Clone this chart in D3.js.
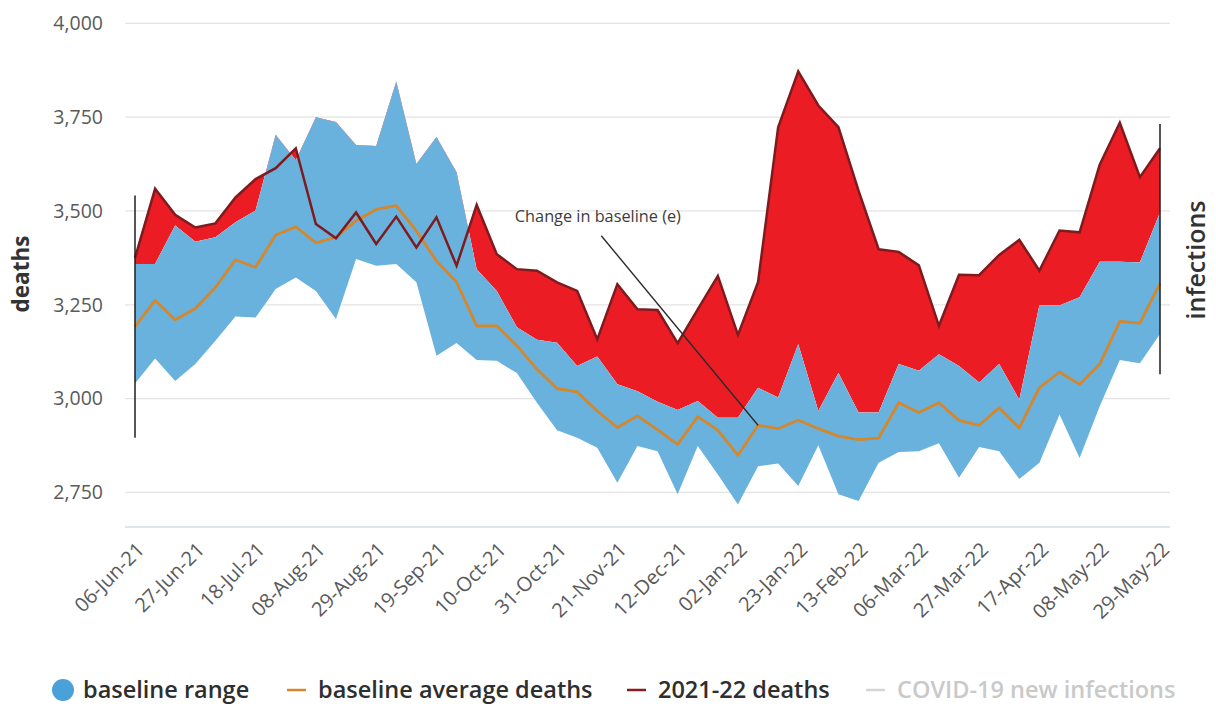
<!DOCTYPE html>
<html>
<head>
<meta charset="utf-8">
<script src="https://cdn.jsdelivr.net/npm/d3@7"></script>
<style>
  body { margin: 0; background: #fff; }
  svg { display: block; font-family: "Open Sans", "Noto Sans", sans-serif; }
</style>
</head>
<body>
<svg id="chart" width="1216" height="706"></svg>
<script>
// ── Data (weekly, 06-Jun-21 .. 29-May-22) ───────────────────────────────
const tickLabels = ['06-Jun-21', '27-Jun-21', '18-Jul-21', '08-Aug-21', '29-Aug-21', '19-Sep-21',
  '10-Oct-21', '31-Oct-21', '21-Nov-21', '12-Dec-21', '02-Jan-22', '23-Jan-22', '13-Feb-22',
  '06-Mar-22', '27-Mar-22', '17-Apr-22', '08-May-22', '29-May-22'];

const baselineUpper = [3359, 3359, 3461, 3418, 3430, 3470, 3501, 3703, 3635, 3750, 3737, 3676, 3673,
  3845, 3625, 3697, 3603, 3345, 3287, 3190, 3157, 3149, 3087, 3112, 3038, 3020, 2992, 2970, 2994,
  2949, 2949, 3029, 3003, 3145, 2967, 3068, 2963, 2963, 3092, 3074, 3118, 3087, 3043, 3092, 2997,
  3249, 3248, 3270, 3365, 3365, 3363, 3496];

const baselineLower = [3040, 3107, 3047, 3092, 3154, 3219, 3216, 3292, 3323, 3287, 3212, 3372, 3354,
  3359, 3310, 3114, 3148, 3103, 3101, 3068, 2989, 2916, 2896, 2869, 2776, 2874, 2860, 2745, 2874,
  2798, 2718, 2820, 2827, 2767, 2876, 2745, 2727, 2829, 2858, 2860, 2881, 2789, 2871, 2860, 2786,
  2829, 2958, 2842, 2980, 3103, 3094, 3172];

const baselineAverage = [3192, 3262, 3210, 3240, 3296, 3370, 3350, 3436, 3458, 3415, 3430, 3474, 3504,
  3514, 3447, 3367, 3310, 3194, 3194, 3141, 3078, 3027, 3018, 2967, 2923, 2954, 2917, 2878, 2952,
  2916, 2849, 2929, 2920, 2943, 2920, 2900, 2891, 2895, 2989, 2963, 2989, 2942, 2929, 2976, 2922,
  3029, 3071, 3038, 3092, 3206, 3201, 3307];

const deaths2122 = [3375, 3559, 3490, 3456, 3467, 3536, 3585, 3614, 3667, 3465, 3427, 3496, 3412,
  3485, 3403, 3483, 3354, 3516, 3385, 3345, 3341, 3310, 3287, 3158, 3305, 3238, 3236, 3148, 3238,
  3327, 3170, 3310, 3723, 3872, 3781, 3723, 3554, 3398, 3391, 3355, 3194, 3330, 3329, 3383, 3423,
  3341, 3448, 3443, 3623, 3735, 3590, 3667];

const yTicks = [2750, 3000, 3250, 3500, 3750, 4000];

// vertical markers at the first and last week
const edgeBars = [
  { week: 0, from: 2896, to: 3541 },
  { week: 51, from: 3065, to: 3732 }
];

const annotation = { text: 'Change in baseline (e)', textWeek: 18.9, textValue: 3471,
  fromWeek: 23.2, fromValue: 3434, toWeek: 31 };

const legendItems = [
  { label: 'baseline range', kind: 'dot', color: '#4aa0d8', text: '#2e2e2e', x: 53 },
  { label: 'baseline average deaths', kind: 'dash', color: '#d8862b', text: '#2e2e2e', x: 287 },
  { label: '2021-22 deaths', kind: 'dash', color: '#8b1a1f', text: '#2e2e2e', x: 627 },
  { label: 'COVID-19 new infections', kind: 'dash', color: '#d4d4d4', text: '#c9c9c9', x: 866 }
];

// ── Colours ───────────────────────────────────────────────────────────────
const BAND = '#69b2de';
const RED = '#ec1c24';
const DARKRED = '#7e1b1e';
const ORANGE = '#d4872c';

// ── Scales ────────────────────────────────────────────────────────────────
const svg = d3.select('#chart');
const weeks = d3.range(baselineUpper.length);

const x = d3.scaleLinear().domain([0, 51]).range([135, 1160]);
const y = d3.scaleLinear().domain([2658, 4000]).range([527, 23.3]);
const plotLeft = 125, plotRight = 1170;

// ── Gridlines + y labels ───────────────────────────────────────────────────
const grid = svg.append('g');
grid.selectAll('line')
  .data(yTicks)
  .join('line')
    .attr('x1', plotLeft).attr('x2', plotRight)
    .attr('y1', d => y(d)).attr('y2', d => y(d))
    .attr('stroke', '#e4e4e4').attr('stroke-width', 1.2);

grid.selectAll('text')
  .data(yTicks)
  .join('text')
    .attr('x', 103).attr('y', d => y(d))
    .attr('dy', '0.35em')
    .attr('text-anchor', 'end')
    .attr('font-size', 19.5)
    .attr('fill', '#5a5a5a')
    .text(d => d3.format(',')(d));

// bottom axis line
svg.append('line')
  .attr('x1', plotLeft).attr('x2', plotRight)
  .attr('y1', y(2658)).attr('y2', y(2658))
  .attr('stroke', '#d5dce6').attr('stroke-width', 1.5);

// ── Baseline band ──────────────────────────────────────────────────────────
const band = d3.area()
  .x(i => x(i))
  .y0(i => y(baselineLower[i]))
  .y1(i => y(baselineUpper[i]));

// clip to region above the upper baseline, so red only shows excess deaths
svg.append('clipPath').attr('id', 'above-upper')
  .append('path')
    .attr('d', d3.area().x(i => x(i)).y0(0).y1(i => y(baselineUpper[i]))(weeks));

const excess = d3.area()
  .x(i => x(i))
  .y0(i => y(baselineUpper[i]))
  .y1(i => y(deaths2122[i]));

svg.append('path')
  .attr('d', band(weeks))
  .attr('fill', BAND);

svg.append('path')
  .attr('d', excess(weeks))
  .attr('fill', RED)
  .attr('clip-path', 'url(#above-upper)');

// ── Lines ─────────────────────────────────────────────────────────────────
const lineOf = arr => d3.line().x(i => x(i)).y(i => y(arr[i]))(weeks);

svg.append('path')
  .attr('d', lineOf(baselineAverage))
  .attr('fill', 'none')
  .attr('stroke', ORANGE)
  .attr('stroke-width', 2.8)
  .attr('stroke-linejoin', 'round');

svg.append('path')
  .attr('d', lineOf(deaths2122))
  .attr('fill', 'none')
  .attr('stroke', DARKRED)
  .attr('stroke-width', 2.5)
  .attr('stroke-linejoin', 'miter');

// ── Annotation ────────────────────────────────────────────────────────────
svg.append('line')
  .attr('x1', x(annotation.fromWeek)).attr('y1', y(annotation.fromValue))
  .attr('x2', x(annotation.toWeek)).attr('y2', y(baselineAverage[annotation.toWeek]))
  .attr('stroke', '#2b2b2b').attr('stroke-width', 1.4);

svg.append('text')
  .attr('x', x(annotation.textWeek)).attr('y', y(annotation.textValue))
  .attr('font-size', 16.3)
  .attr('fill', '#3c3c3c')
  .text(annotation.text);

// ── Edge markers ──────────────────────────────────────────────────────────
svg.append('g').selectAll('line')
  .data(edgeBars)
  .join('line')
    .attr('x1', d => x(d.week)).attr('x2', d => x(d.week))
    .attr('y1', d => y(d.from)).attr('y2', d => y(d.to))
    .attr('stroke', '#1e1e1e').attr('stroke-width', 1.5);

// ── X axis labels ─────────────────────────────────────────────────────────
const xAxis = d3.axisBottom(x)
  .tickValues(d3.range(0, 52, 3))
  .tickSize(0)
  .tickFormat((d, i) => tickLabels[i]);

const xg = svg.append('g').call(xAxis);
xg.select('.domain').remove();
xg.selectAll('.tick text')
  .attr('font-family', '"Open Sans", "Noto Sans", sans-serif')
  .attr('font-size', 20)
  .attr('fill', '#5a5a5a')
  .attr('text-anchor', 'end')
  .attr('x', 0).attr('y', 0).attr('dy', 0)
  .attr('transform', 'translate(10,551) rotate(-45)');

// ── Axis titles ───────────────────────────────────────────────────────────
svg.append('text')
  .attr('transform', 'translate(29,274) rotate(-90)')
  .attr('text-anchor', 'middle')
  .attr('font-size', 22.5).attr('font-weight', 700)
  .attr('fill', '#333')
  .text('deaths');

svg.append('text')
  .attr('transform', 'translate(1205,260) rotate(-90)')
  .attr('text-anchor', 'middle')
  .attr('font-size', 25).attr('font-weight', 600)
  .attr('fill', '#333')
  .text('infections');

// ── Legend ────────────────────────────────────────────────────────────────
const legend = svg.append('g').attr('transform', 'translate(0,690)');
legendItems.forEach(function (d) {
  const g = legend.append('g').attr('transform', `translate(${d.x},0)`);
  if (d.kind === 'dot') {
    g.append('circle').attr('cx', 10).attr('cy', 0).attr('r', 11).attr('fill', d.color);
  } else {
    g.append('line').attr('x1', 0).attr('x2', 19).attr('y1', 0).attr('y2', 0)
      .attr('stroke', d.color).attr('stroke-width', 2.5);
  }
  g.append('text').attr('x', d.kind === 'dot' ? 30 : 31).attr('dy', '0.35em')
    .attr('font-size', 23.5).attr('font-weight', 600).attr('fill', d.text).text(d.label);
});
</script>
</body>
</html>
